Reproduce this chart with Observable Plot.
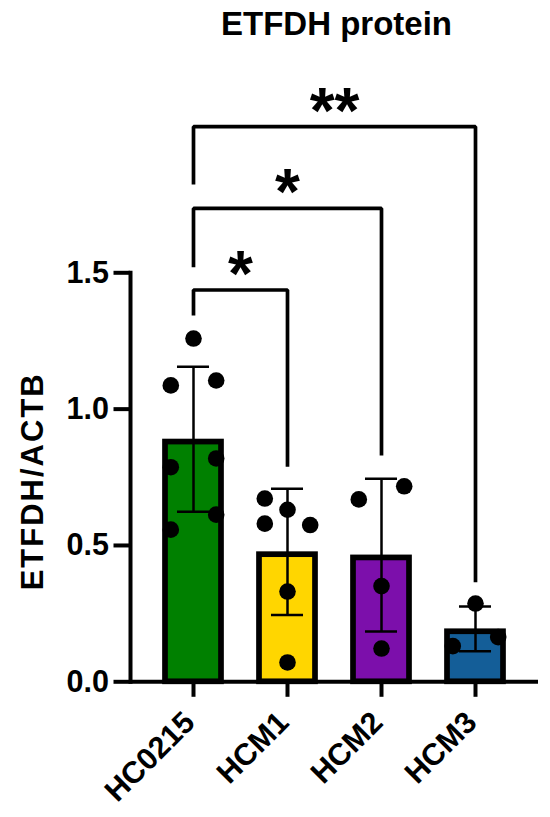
<!DOCTYPE html>
<html>
<head>
<meta charset="utf-8">
<script src="https://cdn.jsdelivr.net/npm/d3@7"></script>
<script src="https://cdn.jsdelivr.net/npm/@observablehq/plot@0.6"></script>
<style>
  body { margin: 0; background: #fff; font-family: "Liberation Sans", Arial, sans-serif; color: #000; }
  #title { width: 550px; height: 47px; box-sizing: border-box; padding: 4px 12px 0 135px; line-height: 40px;
           font-size: 33px; font-weight: bold; text-align: center; }
</style>
</head>
<body>
<div id="title">ETFDH protein</div>
<div id="chart"></div>
<script>
// ---- data ----
const groups = ["HC0215", "HCM1", "HCM2", "HCM3"];
const groupColors = ["#008000", "#ffd600", "#7c0fab", "#145e98"];

const hc0215 = [1.259, 1.087, 1.105, 0.787, 0.819, 0.558, 0.613];
const hc0215Lane = [0, -1, 1, -1, 1, -1, 1];
const hcm1 = [0.672, 0.631, 0.580, 0.575, 0.331, 0.071];
const hcm1Lane = [-1, 0, -1, 1, 0, 0];
const hcm2 = [0.669, 0.717, 0.351, 0.122];
const hcm2Lane = [-1, 1, 0, 0];
const hcm3 = [0.287, 0.131, 0.164];
const hcm3Lane = [0, -1, 1];

const yTicks = [0, 0.5, 1.0, 1.5];
const yLabel = "ETFDH/ACTB";

const bracketFrom = ["HC0215", "HC0215", "HC0215"];
const bracketTo = ["HCM1", "HCM2", "HCM3"];
const bracketTop = [1.437, 1.736, 2.036];
const bracketLeftEnd = [1.343, 1.520, 1.824];
const bracketRightEnd = [0.789, 0.830, 0.365];
const bracketStars = ["*", "*", "**"];

// ---- derived tables ----
const values = [hc0215, hcm1, hcm2, hcm3];
const lanes = [hc0215Lane, hcm1Lane, hcm2Lane, hcm3Lane];
const points = groups.flatMap((g, i) => values[i].map((v, j) => ({group: g, value: v, lane: lanes[i][j]})));
const summary = groups.map((g, i) => ({group: g, mean: d3.mean(values[i]), sd: d3.deviation(values[i])}));
const bracketPts = bracketFrom.flatMap((f, i) => [
  {b: i, x: f, y: bracketLeftEnd[i]},
  {b: i, x: f, y: bracketTop[i]},
  {b: i, x: bracketTo[i], y: bracketTop[i]},
  {b: i, x: bracketTo[i], y: bracketRightEnd[i]}
]);

// ---- layout ----
const W = 550, H = 770, mL = 130, mR = 12, mT = 225.3, mB = 135.7;
const padIn = 0.408, padOut = 0.373;
const xs = Plot.scale({x: {type: "band", domain: groups, range: [mL, W - mR], paddingInner: padIn, paddingOuter: padOut}});
const step = xs.apply(groups[1]) - xs.apply(groups[0]);
const bw = xs.bandwidth;
const capInset = (bw - 31.7) / 2;
const laneStep = 22.7;
const barStroke = 5.7;
const font = {fontSize: 30.5, fontWeight: "bold"};

const chart = Plot.plot({
  width: W, height: H,
  marginLeft: mL, marginRight: mR, marginTop: mT, marginBottom: mB,
  style: {fontFamily: "Liberation Sans, Arial, sans-serif", background: "#fff", color: "#000"},
  x: {type: "band", domain: groups, paddingInner: padIn, paddingOuter: padOut},
  y: {domain: [0, 1.5]},
  color: {domain: groups, range: groupColors},
  marks: [
    Plot.barY(summary, {x: "group", y: "mean", fill: "group", stroke: "#000", strokeWidth: barStroke, insetTop: barStroke / 2}),
    Plot.ruleX(summary, {x: "group", y1: d => d.mean - d.sd, y2: d => d.mean + d.sd, stroke: "#000", strokeWidth: 2.5}),
    Plot.tickY(summary, {x: "group", y: d => d.mean + d.sd, stroke: "#000", strokeWidth: 2.5, insetLeft: capInset, insetRight: capInset}),
    Plot.tickY(summary, {x: "group", y: d => d.mean - d.sd, stroke: "#000", strokeWidth: 2.5, insetLeft: capInset, insetRight: capInset}),
    ...[-1, 0, 1].map(l => Plot.dot(points.filter(p => p.lane === l), {x: "group", y: "value", r: 8.3, fill: "#000", dx: l * laneStep})),
    Plot.frame({anchor: "left", stroke: "#000", strokeWidth: 4}),
    Plot.ruleY([0], {stroke: "#000", strokeWidth: 4}),
    Plot.axisY({ticks: yTicks, tickFormat: d3.format(".1f"), tickSize: 16.5, tickPadding: 5, strokeWidth: 4, label: null, ...font}),
    Plot.axisX({tickSize: 15.5, text: null, strokeWidth: 4, label: null}),
    Plot.axisX({tickSize: 0, tickPadding: 35.5, tickRotate: -45, dx: -4, label: null, ...font}),
    Plot.line(bracketPts, {x: "x", y: "y", z: "b", stroke: "#000", strokeWidth: 3.7, strokeLinejoin: "miter", strokeLinecap: "butt"}),
    ...bracketStars.map((s, i) => Plot.text([s], {
      x: () => bracketFrom[i], y: () => bracketTop[i], text: d => d,
      dx: (groups.indexOf(bracketTo[i]) - groups.indexOf(bracketFrom[i])) * step / 2,
      dy: 6, lineAnchor: "bottom", fontSize: 64, fontWeight: "bold"
    })),
    Plot.text([yLabel], {frameAnchor: "left", rotate: -90, textAnchor: "middle", dx: -97, dy: 4, fontSize: 31, fontWeight: "bold"})
  ]
});
chart.querySelectorAll("text").forEach(t => { if (t.textContent === yLabel) t.style.letterSpacing = "2px"; });
document.getElementById("chart").appendChild(chart);
</script>
</body>
</html>
